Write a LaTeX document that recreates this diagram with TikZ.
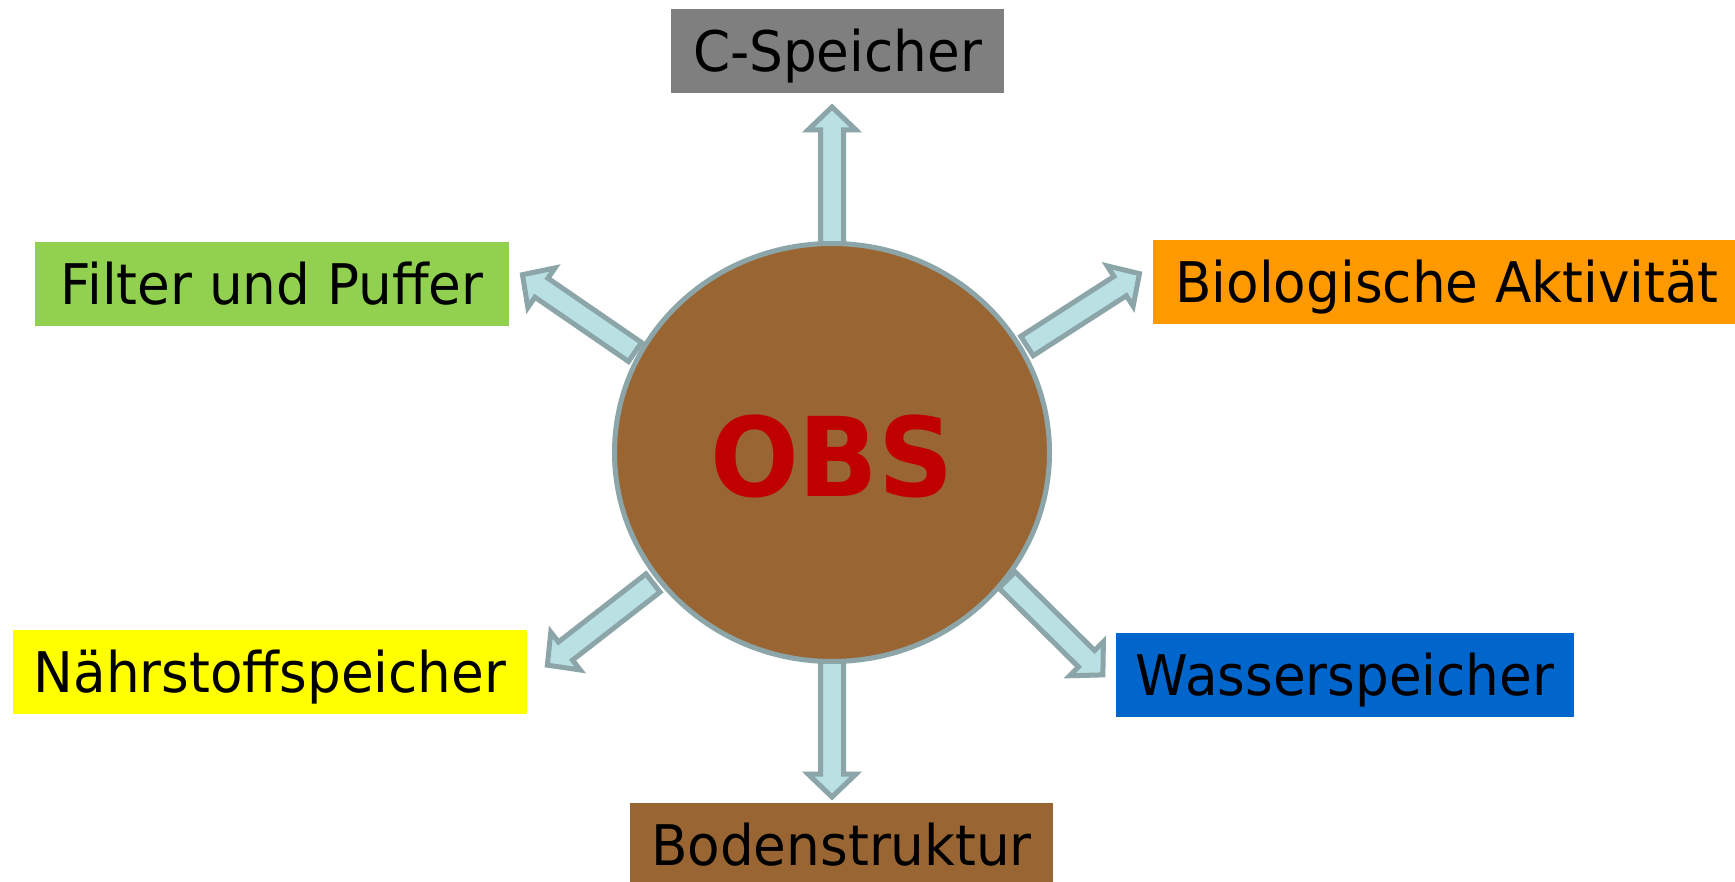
\documentclass[tikz,border=0pt]{standalone}
\usepackage{fontspec}
\usetikzlibrary{calc,shapes.geometric}
\newfontfamily\boxfont[FakeStretch=0.95]{DejaVu Sans}
\definecolor{cgray}{HTML}{7F7F7F}
\definecolor{cgreen}{HTML}{92D050}
\definecolor{corange}{HTML}{FF9900}
\definecolor{cblue}{HTML}{0066CC}
\definecolor{cyellow}{HTML}{FFFF00}
\definecolor{cbrown}{HTML}{996633}
\definecolor{cedge}{HTML}{8BA5A8}
\definecolor{carrow}{HTML}{B9E0E3}
\definecolor{cred}{HTML}{C00000}
\tikzset{
  labelbox/.style={rectangle, inner sep=0pt, minimum height=84pt, text height=41pt, text depth=0pt,
    font=\boxfont\fontsize{56pt}{60pt}\selectfont, text=black},
  blockarrow/.style={draw=cedge, fill=carrow, line width=5pt, line join=miter},
  obsball/.style={ellipse, draw=cedge, fill=cbrown, line width=5pt, minimum width=435pt, minimum height=418pt,
    inner sep=0pt}
}
\newcommand\blockarr[2]{%
  \coordinate (ba-t) at ($(#2)!3pt!(#1)$);
  \coordinate (ba-h) at ($(ba-t)!23pt!(#1)$);
  \draw[blockarrow] ($(#1)!11.5pt!90:(#2)$) -- ($(ba-h)!11.5pt!-90:(#1)$) -- ($(ba-h)!24pt!-90:(#1)$)
    -- (ba-t) -- ($(ba-h)!24pt!90:(#1)$) -- ($(ba-h)!11.5pt!90:(#1)$) -- ($(#1)!11.5pt!-90:(#2)$) -- cycle;
}
\begin{document}
\begin{tikzpicture}[x=1pt,y=-1pt]
\clip (0,0) rectangle (1735,882);
\fill[white] (0,0) rectangle (1735,882);
% boxes
\node[labelbox, fill=cgray, minimum width=333pt] (cspeicher) at (837.5,51) {C-Speicher};
\node[labelbox, fill=cgreen, minimum width=474pt] (filter) at (272,284.5) {Filter und Puffer};
\node[labelbox, fill=corange, minimum width=588pt] (bio) at (1447,282) {Biologische Aktivität};
\node[labelbox, fill=cblue, minimum width=458pt] (wasser) at (1345,675) {Wasserspeicher};
\node[labelbox, fill=cyellow, minimum width=514pt] (naehr) at (270,672) {Nährstoffspeicher};
\node[labelbox, fill=cbrown, minimum width=423pt] (boden) at (841.5,845) {Bodenstruktur};
% arrow end points
\coordinate (tUp) at (832,246);   \coordinate (pUp) at (832,104);
\coordinate (tDn) at (832,659);   \coordinate (pDn) at (832,800);
\coordinate (tUL) at (635,352);   \coordinate (pUL) at (520,273);
\coordinate (tUR) at (1027,346);  \coordinate (pUR) at (1142,272);
\coordinate (tLL) at (653,583);   \coordinate (pLL) at (545,667);
\coordinate (tLR) at (1007,580);  \coordinate (pLR) at (1105,677);
\blockarr{tUp}{pUp}
\blockarr{tDn}{pDn}
\blockarr{tUL}{pUL}
\blockarr{tUR}{pUR}
\blockarr{tLL}{pLL}
\blockarr{tLR}{pLR}
% central ball
\node[obsball] (obs) at (832,452.5) {};
\node[inner sep=0pt, text height=80pt, text depth=0pt, text=cred,
  font=\boxfont\bfseries\fontsize{110pt}{120pt}\selectfont] (obstext) at (obs.center) [yshift=-3.5pt] {OBS};
\end{tikzpicture}
\end{document}
